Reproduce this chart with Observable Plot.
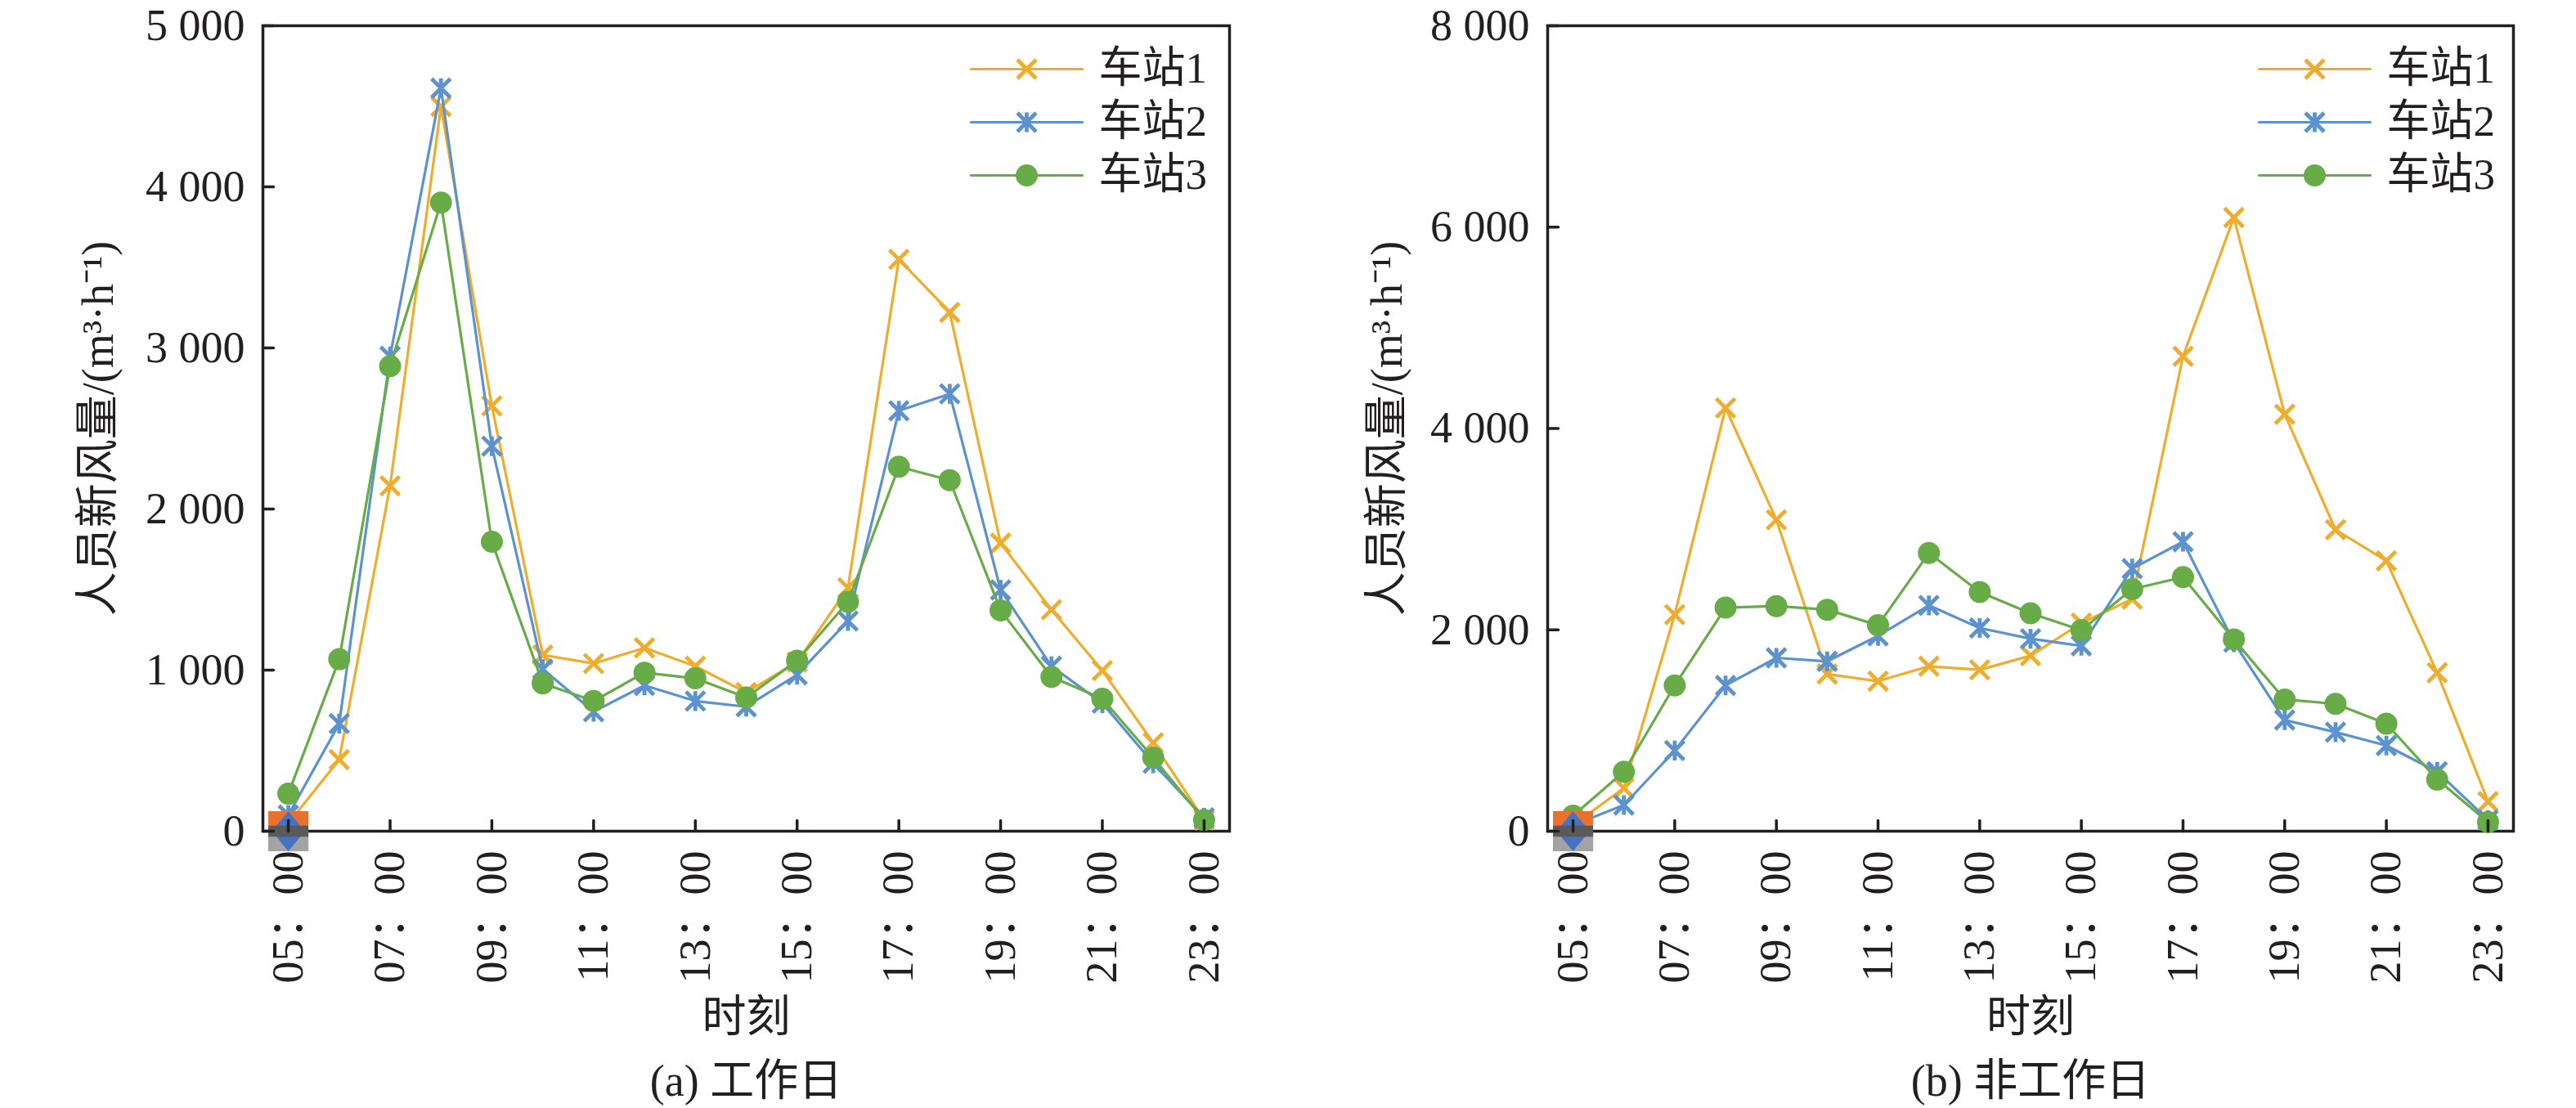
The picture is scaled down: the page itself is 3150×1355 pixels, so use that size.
<!DOCTYPE html>
<html><head><meta charset="utf-8">
<script src="https://cdn.jsdelivr.net/npm/d3@7"></script>
<script src="https://cdn.jsdelivr.net/npm/@observablehq/plot@0.6"></script>
<style>
body{margin:0;background:#fff;}
#wrap{display:flex;width:3150px;height:1355px;overflow:hidden;}
#wrap svg{flex:none;}
</style></head><body><div id="wrap"></div>
<script>
// ---------- data ----------
const hours = [5,6,7,8,9,10,11,12,13,14,15,16,17,18,19,20,21,22,23];
const xTickHours = [5,7,9,11,13,15,17,19,21,23];
const xTickLabels = ["05：00","07：00","09：00","11：00","13：00","15：00","17：00","19：00","21：00","23：00"];
const seriesNames = ["车站1","车站2","车站3"];

// (a) 工作日
const workStation1 = [50,444,2144,4499,2640,1094,1041,1138,1024,861,1050,1511,3550,3221,1788,1375,997,549,70];
const workStation2 = [100,668,2948,4613,2390,1006,742,905,808,773,971,1305,2610,2715,1498,1024,795,422,83];
const workStation3 = [233,1068,2887,3902,1797,918,808,984,949,830,1059,1424,2263,2179,1371,958,822,457,70];
const workYTicks = [0,1000,2000,3000,4000,5000];

// (b) 非工作日
const offStation1 = [60,429,2151,4204,3093,1561,1490,1638,1603,1743,2067,2306,4717,6095,4141,2995,2685,1575,295];
const offStation2 = [60,260,801,1448,1722,1687,1940,2243,2018,1912,1842,2608,2875,1877,1104,984,851,591,112];
const offStation3 = [155,591,1448,2221,2236,2200,2046,2763,2376,2165,1997,2404,2524,1905,1308,1265,1068,513,91];
const offYTicks = [0,2000,4000,6000,8000];

// stray markers sitting at 05:00 in the source
const strayHour = [5];
const strayValue = [0];

const yLabel = "人员新风量/(m³·h⁻¹)";
const xLabel = "时刻";

// ---------- styling ----------
const colors = ["#F0AC2C", "#5B92CF", "#67AC47"];
const ink = "#231f20";
const font = "'Liberation Serif','Noto Sans CJK SC',serif";
const fmtY = d3.formatLocale({decimal:".", thousands:" ", grouping:[3], currency:["",""]}).format(",");

const rad = s => Math.sqrt(s / Math.PI);
const symTimes = {draw(c, s){const r = rad(s); c.moveTo(-r,-r); c.lineTo(r,r); c.moveTo(-r,r); c.lineTo(r,-r);}};
const symStar = {draw(c, s){const r = rad(s); c.moveTo(-r,-r); c.lineTo(r,r); c.moveTo(-r,r); c.lineTo(r,-r); c.moveTo(0,-r*1.05); c.lineTo(0,r*1.05);}};
const symSquare = {draw(c, s){const r = rad(s); c.rect(-r,-r,2*r,2*r);}};
const symLowerHalf = {draw(c, s){const r = rad(s); c.rect(-r,0.05*r,2*r,0.95*r);}};
const symDiamond = {draw(c, s){const r = rad(s); c.moveTo(0,-r); c.lineTo(0.82*r,0); c.lineTo(0,r); c.lineTo(-0.82*r,0); c.closePath();}};
const symBar = {draw(c, s){const r = rad(s); c.rect(-r,-0.28*r,2*r,0.56*r);}};
const tickShape = {draw(c, l){c.moveTo(0,0); c.lineTo(0,-l);}};

const mR = 11.5, mW = 4.8, cR = 13.5;

function seriesMarks(rows, i) {
  const m = [Plot.line(rows, {x:"h", y:"v", stroke:colors[i], strokeWidth:3.2})];
  if (i === 0) m.push(Plot.dot(rows, {x:"h", y:"v", r:mR, symbol:symTimes, fill:"none", stroke:colors[i], strokeWidth:mW}));
  if (i === 1) m.push(Plot.dot(rows, {x:"h", y:"v", r:mR, symbol:symStar, fill:"none", stroke:colors[i], strokeWidth:mW}));
  if (i === 2) m.push(Plot.dot(rows, {x:"h", y:"v", r:cR, fill:colors[i], stroke:"none"}));
  return m;
}

function legendMarks(i, lx, mx, tx) {
  const dy = 53 + i * 65;
  const m = [Plot.vector([0], {frameAnchor:"top-right", dx:lx, dy, rotate:90, length:136, anchor:"start", shape:tickShape, stroke:colors[i], strokeWidth:3.2})];
  if (i === 0) m.push(Plot.dot([0], {frameAnchor:"top-right", dx:mx, dy, r:mR, symbol:symTimes, fill:"none", stroke:colors[i], strokeWidth:mW}));
  if (i === 1) m.push(Plot.dot([0], {frameAnchor:"top-right", dx:mx, dy, r:mR, symbol:symStar, fill:"none", stroke:colors[i], strokeWidth:mW}));
  if (i === 2) m.push(Plot.dot([0], {frameAnchor:"top-right", dx:mx, dy, r:cR, fill:colors[i], stroke:"none"}));
  m.push(Plot.text([seriesNames[i]], {frameAnchor:"top-right", dx:tx, dy, text:d=>d, textAnchor:"start", lineAnchor:"middle", fontSize:53, fill:ink}));
  return m;
}

function makeChart({s, yMax, yTicks, marginLeft, marginRight, yLabelDx, legend, caption}) {
  const data = s.map(vals => hours.map((h, k) => ({h, v: vals[k]})));
  const stray = strayHour.map((h, k) => ({h, v: strayValue[k]}));
  return Plot.plot({
    width: 1575, height: 1355,
    marginTop: 31, marginBottom: 339, marginLeft, marginRight,
    x: {domain: [4.5, 23.5], axis: null},
    y: {domain: [0, yMax], axis: null},
    style: {fontFamily: font, fontSize: "54px", color: ink, background: "#fff", overflow: "visible"},
    marks: [
      Plot.frame({stroke: ink, strokeWidth: 3.5}),
      ...data.flatMap((rows, i) => seriesMarks(rows, i)),
      Plot.dot(stray, {x:"h", y:"v", r:24.5, symbol:symSquare, fill:"#E9712F"}),
      Plot.dot(stray, {x:"h", y:"v", r:24.5, symbol:symLowerHalf, fill:"#A3A3A3"}),
      Plot.dot(stray, {x:"h", y:"v", r:24.5, symbol:symDiamond, fill:"#4472C4"}),
      Plot.dot(stray, {x:"h", y:"v", r:24.5, symbol:symBar, fill:"#5A5A5A"}),
      // ticks (inward)
      Plot.vector(xTickHours, {x: d => d, frameAnchor: "bottom", length: 13, rotate: 0, anchor: "start", shape: tickShape, stroke: ink, strokeWidth: 3.5}),
      Plot.vector(yTicks, {y: d => d, frameAnchor: "left", length: 13, rotate: 90, anchor: "start", shape: tickShape, stroke: ink, strokeWidth: 3.5}),
      // tick labels
      Plot.text(yTicks, {y: d => d, text: d => fmtY(d), frameAnchor: "left", textAnchor: "end", lineAnchor: "middle", dx: -22, fontSize: 54, fill: ink}),
      Plot.text(xTickHours, {x: d => d, text: (d, k) => xTickLabels[k], frameAnchor: "bottom", rotate: -90, textAnchor: "end", lineAnchor: "middle", dy: 24, fontSize: 54, fill: ink}),
      // axis titles and caption
      Plot.text([yLabel], {text: d => d, frameAnchor: "left", rotate: -90, textAnchor: "middle", lineAnchor: "middle", dx: yLabelDx, fontSize: 54, fill: ink}),
      Plot.text([xLabel], {text: d => d, frameAnchor: "bottom", textAnchor: "middle", lineAnchor: "middle", dy: 228, fontSize: 54, fill: ink}),
      Plot.text([caption], {text: d => d, frameAnchor: "bottom", textAnchor: "middle", lineAnchor: "middle", dy: 306, fontSize: 54, fill: ink}),
      // legend
      ...[0,1,2].flatMap(i => legendMarks(i, legend[0], legend[1], legend[2]))
    ]
  });
}

const wrap = document.getElementById("wrap");
wrap.append(makeChart({
  s: [workStation1, workStation2, workStation3], yMax: 5000, yTicks: workYTicks,
  marginLeft: 321, marginRight: 72, yLabelDx: -201, legend: [-316, -248, -160], caption: "(a) 工作日"
}));
wrap.append(makeChart({
  s: [offStation1, offStation2, offStation3], yMax: 8000, yTicks: offYTicks,
  marginLeft: 317, marginRight: 77, yLabelDx: -196, legend: [-311, -243, -155], caption: "(b) 非工作日"
}));
</script></body></html>
